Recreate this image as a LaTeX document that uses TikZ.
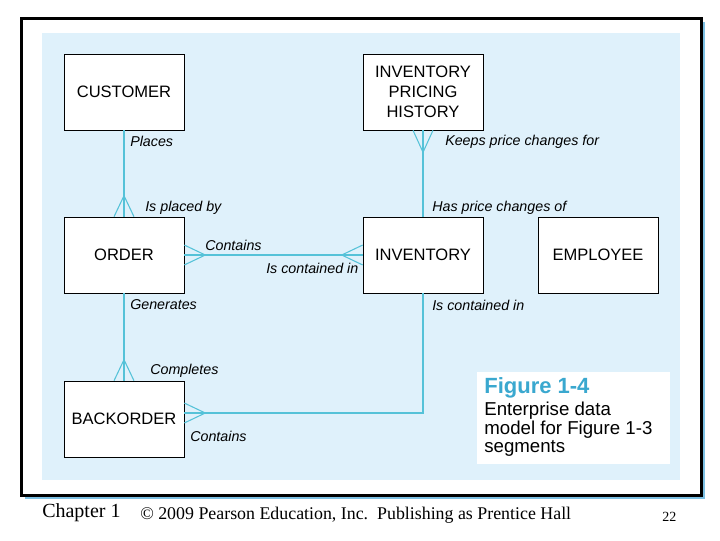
\documentclass[tikz,border=0pt]{standalone}
\usepackage{fontspec}
\setmainfont{Liberation Serif}
\setsansfont{Liberation Sans}
\usetikzlibrary{positioning}

\definecolor{panelblue}{HTML}{DFF1FB}
\definecolor{linkcyan}{HTML}{55C2D8}
\definecolor{shadowblue}{HTML}{7DC0E3}
\definecolor{figblue}{HTML}{3AA8CF}

\begin{document}
\begin{tikzpicture}[x=0.75pt, y=-0.75pt,
    entity/.style={draw=black, fill=white, minimum width=90pt, minimum height=57pt,
        inner sep=0pt, align=center, font=\sffamily\fontsize{12.4}{15.2}\selectfont},
    rel/.style={anchor=west, inner sep=0pt, font=\sffamily\itshape\fontsize{10.7}{12}\selectfont},
    link/.style={draw=linkcyan, line width=0.8pt}]
    \useasboundingbox (0,0) rectangle (720,540);

    % slide frame and panel
    \fill[shadowblue] (25,22) rectangle (705,499);
    \draw[line width=2.25pt, fill=white] (21,18) rectangle (701,495);
    \fill[panelblue] (42,33) rectangle (680,480);

    % entities
    \node[entity] (customer) at (124,92) {CUSTOMER};
    \node[entity] (pricing) at (423,92) {INVENTORY\\PRICING\\HISTORY};
    \node[entity] (order) at (124,255) {ORDER};
    \node[entity] (inventory) at (423,255) {INVENTORY};
    \node[entity] (employee) at (598,255) {EMPLOYEE};
    \node[entity] (backorder) at (124,419) {BACKORDER};

    % Customer places Order
    \draw[link] (customer) -- (order);
    \draw[link] ([xshift=-7.5pt]order.north) -- ([yshift=15.75pt]order.north) -- ([xshift=7.5pt]order.north);
    \node[rel] (placesLbl) at (130,141) {Places};
    \node[rel] (placedLbl) at (145,208) {Is placed by};

    % Inventory has pricing history
    \draw[link] (pricing) -- (inventory);
    \draw[link] ([xshift=-7.5pt]pricing.south) -- ([yshift=-16.5pt]pricing.south) -- ([xshift=7.5pt]pricing.south);
    \node[rel] (keepsLbl) at (445,142) {Keeps price changes for};
    \node[rel] (hasLbl) at (432,208) {Has price changes of};

    % Order contains Inventory
    \draw[link] (order) -- (inventory);
    \draw[link] ([yshift=7.5pt]order.east) -- ([xshift=15.75pt]order.east) -- ([yshift=-7.5pt]order.east);
    \draw[link] ([yshift=7.5pt]inventory.west) -- ([xshift=-15.75pt]inventory.west) -- ([yshift=-7.5pt]inventory.west);
    \node[rel] (containsLbl) at (205,245) {Contains};
    \node[rel] (containedLbl) at (266,268) {Is contained in};

    % Order generates Backorder
    \draw[link] (order) -- (backorder);
    \draw[link] ([xshift=-7.5pt]backorder.north) -- ([yshift=15.75pt]backorder.north) -- ([xshift=7.5pt]backorder.north);
    \node[rel] (generatesLbl) at (130,305) {Generates};
    \node[rel] (completesLbl) at (150,371) {Completes};

    % Backorder contains Inventory
    \draw[link] (inventory.south) |- ([yshift=4.5pt]backorder.east);
    \draw[link] ([yshift=12pt]backorder.east) -- ([xshift=15.75pt, yshift=4.5pt]backorder.east) -- ([yshift=-3pt]backorder.east);
    \node[rel] (invContainedLbl) at (432,305) {Is contained in};
    \node[rel] (boContainsLbl) at (190,436) {Contains};

    % caption
    \node[fill=white, minimum width=144.75pt, minimum height=69pt] (captionbox) at (573.5,418) {};
    \node[anchor=north west, inner sep=0pt, align=left, font=\sffamily\fontsize{14}{13.9}\selectfont]
        (captiontext) at ([xshift=5.5pt, yshift=-4pt]captionbox.north west)
        {{\bfseries\color{figblue}\fontsize{16.5}{16}\selectfont Figure 1-4}\\[3pt]
         Enterprise data\\model for Figure 1-3\\segments};

    % footer
    \node[anchor=base west, inner sep=0pt, font=\fontsize{15}{18}\selectfont] (chapterLbl) at (42,517) {Chapter 1};
    \node[anchor=base west, inner sep=0pt, font=\fontsize{13.4}{16}\selectfont] (copyLbl) at (140,519) {© 2009 Pearson Education, Inc.\ \ Publishing as Prentice Hall};
    \node[anchor=base west, inner sep=0pt, font=\fontsize{10.5}{12}\selectfont] (pageLbl) at (662,521) {22};
\end{tikzpicture}
\end{document}
